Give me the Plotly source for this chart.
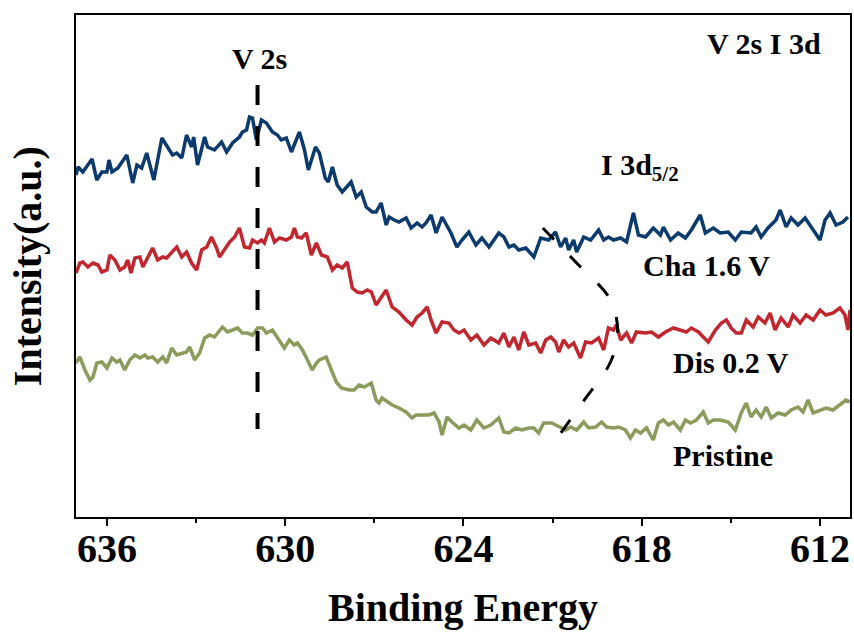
import plotly.graph_objects as go

# Binding energy (eV) and intensity (a.u.)
cha_E = [637.04,636.97,636.81,636.50,636.34,636.17,636.00,635.93,635.83,635.63,635.33,635.13,634.99,634.83,634.66,634.42,634.15,633.95,633.79,633.65,633.48,633.32,633.15,633.08,632.95,632.71,632.61,632.38,632.14,631.97,631.77,631.54,631.44,631.30,631.20,631.10,630.97,630.80,630.63,630.43,630.26,630.13,629.96,629.79,629.52,629.35,629.22,628.98,628.85,628.65,628.55,628.41,628.25,628.08,627.78,627.61,627.44,627.27,627.07,626.94,626.77,626.60,626.50,626.33,626.17,625.93,625.76,625.56,625.39,625.26,625.09,624.92,624.72,624.42,624.22,624.05,623.82,623.58,623.38,623.14,622.98,622.81,622.64,622.47,622.30,622.14,621.90,621.63,621.40,621.13,620.90,620.73,620.56,620.46,620.29,620.19,619.95,619.72,619.45,619.28,619.12,618.95,618.71,618.51,618.28,618.11,617.87,617.61,617.37,617.27,617.03,616.77,616.53,616.33,616.03,615.86,615.59,615.36,615.09,614.85,614.65,614.32,614.15,613.98,613.75,613.48,613.34,613.14,612.97,612.74,612.50,612.30,612.00,611.83,611.66,611.46,611.23,611.06]
cha_I = [342,350,345,358,337,345,345,357,345,349,362,334,352,349,364,337,379,370,362,364,359,382,370,380,352,380,370,367,375,365,374,380,385,387,400,399,377,397,394,385,382,377,379,365,385,367,347,370,364,339,335,350,332,325,335,320,325,310,305,305,314,292,300,297,295,299,289,294,290,294,302,284,300,284,270,277,285,272,279,270,277,284,280,270,272,267,269,260,279,277,285,270,279,267,277,265,280,277,287,277,280,277,279,275,304,282,280,289,282,290,277,284,279,287,302,284,289,284,285,277,285,284,290,280,289,297,307,290,299,292,299,290,277,297,304,292,295,300]

dis_E = [637.04,636.91,636.81,636.64,636.47,636.30,636.17,636.00,635.90,635.73,635.56,635.40,635.30,635.19,635.06,634.89,634.79,634.62,634.46,634.29,634.12,633.99,633.82,633.65,633.48,633.32,633.15,632.98,632.81,632.64,632.48,632.31,632.21,632.04,631.87,631.70,631.54,631.37,631.20,631.10,630.93,630.80,630.70,630.53,630.36,630.19,629.96,629.79,629.69,629.59,629.45,629.29,629.12,628.95,628.78,628.58,628.41,628.25,628.08,627.91,627.74,627.57,627.41,627.24,627.10,626.94,626.77,626.60,626.40,626.17,625.93,625.73,625.56,625.39,625.22,625.09,624.92,624.72,624.49,624.32,624.15,623.98,623.75,623.55,623.31,623.08,622.81,622.64,622.47,622.30,622.14,621.97,621.80,621.57,621.40,621.23,621.06,620.90,620.79,620.63,620.46,620.29,620.06,619.89,619.69,619.45,619.28,619.12,618.95,618.85,618.71,618.51,618.34,618.18,617.87,617.67,617.44,617.20,616.93,616.70,616.50,616.33,616.09,615.93,615.76,615.52,615.32,615.15,614.99,614.82,614.65,614.48,614.25,614.08,613.85,613.68,613.51,613.31,613.07,612.91,612.67,612.47,612.23,612.00,611.80,611.56,611.33,611.16,611.06,610.99]
dis_I = [244,254,255,250,254,252,245,247,262,257,247,250,257,244,259,260,250,259,269,257,260,259,265,270,260,265,254,247,267,270,280,269,260,267,275,280,289,270,269,277,274,277,274,289,275,279,277,280,289,280,279,284,262,274,262,260,247,252,249,255,229,225,224,227,225,212,220,227,210,205,197,192,200,204,210,197,184,195,194,187,184,187,177,182,172,179,174,184,170,180,167,185,172,174,164,177,180,175,165,177,170,174,159,175,174,179,167,189,187,192,177,184,174,185,184,185,180,185,189,187,185,189,185,180,175,187,194,197,189,184,184,197,190,200,194,204,187,199,190,202,194,202,197,207,202,204,209,202,187,207]

pri_E = [637.04,636.91,636.74,636.57,636.47,636.34,636.17,636.00,635.83,635.67,635.56,635.40,635.23,635.06,634.89,634.72,634.62,634.46,634.29,634.12,633.99,633.82,633.65,633.48,633.32,633.21,633.05,632.88,632.71,632.54,632.38,632.11,631.94,631.77,631.60,631.44,631.27,631.10,630.93,630.76,630.63,630.43,630.19,630.03,629.86,629.69,629.59,629.42,629.25,629.09,628.95,628.85,628.62,628.45,628.28,628.11,627.84,627.68,627.51,627.34,627.10,626.94,626.84,626.74,626.57,626.40,626.17,625.93,625.73,625.59,625.39,625.16,624.99,624.82,624.72,624.55,624.39,624.15,623.98,623.75,623.55,623.31,623.08,622.81,622.64,622.47,622.24,622.04,621.80,621.63,621.47,621.30,621.03,620.79,620.56,620.39,620.19,619.95,619.79,619.55,619.35,619.18,618.95,618.78,618.55,618.38,618.21,618.04,617.84,617.61,617.44,617.27,617.10,616.93,616.70,616.53,616.36,616.16,615.93,615.76,615.59,615.36,615.09,614.85,614.65,614.48,614.32,614.15,613.98,613.81,613.64,613.41,613.17,612.97,612.74,612.57,612.40,612.23,612.00,611.80,611.56,611.33,611.13,610.99]
pri_I = [154,160,147,137,140,154,155,149,159,155,157,147,157,162,159,162,159,160,155,160,154,169,162,164,165,170,157,164,179,182,180,190,185,187,189,184,184,182,189,189,184,187,177,169,177,172,174,167,157,147,154,157,160,147,135,129,127,127,132,130,134,117,114,119,115,112,109,105,99,102,102,102,104,95,82,100,95,89,92,87,97,89,92,99,85,84,89,87,89,89,84,94,94,90,87,90,87,95,89,90,95,90,89,90,87,79,87,84,89,77,94,97,92,95,87,97,94,97,105,94,97,97,95,87,104,114,100,107,100,110,99,104,102,107,110,105,117,104,107,109,107,112,117,115]

# guide lines
v2s_E = [630.93, 630.93]
v2s_I = [432, 88]
i3d_E = [621.33, 620.19, 619.05, 618.81, 619.05, 619.98, 620.96]
i3d_I = [289, 254, 217, 184, 155, 115, 74]

x_ticks = [636, 630, 624, 618, 612]

FONT = "Liberation Serif"

fig = go.Figure()
fig.add_trace(go.Scatter(x=cha_E, y=cha_I, mode="lines", line=dict(color="#0B3A6C", width=3.5), name="Cha 1.6 V"))
fig.add_trace(go.Scatter(x=dis_E, y=dis_I, mode="lines", line=dict(color="#C1272F", width=3.5), name="Dis 0.2 V"))
fig.add_trace(go.Scatter(x=pri_E, y=pri_I, mode="lines", line=dict(color="#8B9B5B", width=3.5), name="Pristine"))
fig.add_trace(go.Scatter(x=v2s_E, y=v2s_I, mode="lines", line=dict(color="black", width=4, dash="20px,21px"), name="V 2s"))
fig.add_trace(go.Scatter(x=i3d_E, y=i3d_I, mode="lines", line=dict(color="black", width=3, dash="16px,23px", shape="spline"), name="I 3d"))

def ann(text, x, y, xanchor="left", size=30):
    fig.add_annotation(x=x, y=y, text=text, showarrow=False, xanchor=xanchor, yanchor="middle",
                       font=dict(family=FONT, size=size, color="black", weight="bold"))

ann("V 2s", 630.86, 459, xanchor="center")
ann("V 2s I 3d", 613.88, 474, xanchor="center")
ann("I 3d<sub>5/2</sub>", 619.45, 350)
ann("Cha 1.6 V", 618.04, 252)
ann("Dis 0.2 V", 617.03, 155)
ann("Pristine", 617.0, 62)

fig.add_annotation(xref="paper", yref="paper", x=-49/776, y=0.5, text="Intensity(a.u.)", textangle=-90,
                   showarrow=False, xanchor="center", yanchor="middle",
                   font=dict(family=FONT, size=40, color="black", weight="bold"))

fig.update_layout(
    width=854, height=632,
    margin=dict(l=76, r=2, t=15, b=115),
    plot_bgcolor="white", paper_bgcolor="white",
    showlegend=False,
    xaxis=dict(range=[637.04, 610.99], tickvals=x_ticks, ticks="outside", ticklen=7, tickwidth=2,
               tickcolor="black", showline=True, linecolor="black", linewidth=2, mirror=True,
               showgrid=False, zeroline=False, ticklabelstandoff=-12,
               minor=dict(dtick=3, tick0=612, ticks="outside", ticklen=4, tickwidth=2, tickcolor="black"),
               tickfont=dict(family=FONT, size=40, color="black", weight="bold"),
               title=dict(text="Binding Energy", font=dict(family=FONT, size=40, color="black", weight="bold"), standoff=23)),
    yaxis=dict(range=[0, 502], showticklabels=False, ticks="", showline=True, linecolor="black", linewidth=2,
               mirror=True, showgrid=False, zeroline=False),
)

fig.write_html("out.html")
